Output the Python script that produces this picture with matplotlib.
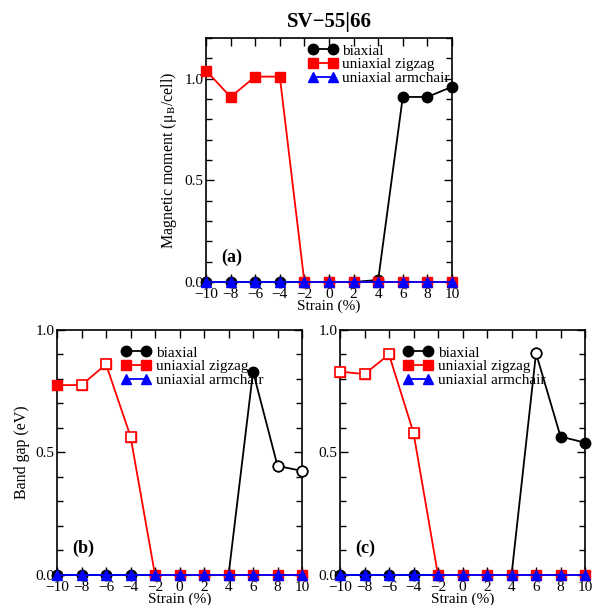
import matplotlib
matplotlib.use("Agg")
import matplotlib.pyplot as plt
from matplotlib.ticker import MultipleLocator

plt.rcParams["font.family"] = ["Liberation Serif", "DejaVu Serif"]
plt.rcParams["mathtext.fontset"] = "stix"
plt.rcParams["axes.unicode_minus"] = True

# --------------------------------------------------
# Data
# --------------------------------------------------
strain = [-10, -8, -6, -4, -2, 0, 2, 4, 6, 8, 10]

# (a) magnetic moment
mag_biaxial = [0, 0, 0, 0, 0, 0, 0, 0.01, 0.91, 0.91, 0.96]
mag_zigzag = [1.04, 0.91, 1.01, 1.01, 0, 0, 0, 0, 0, 0, 0]
mag_armchair = [0, 0, 0, 0, 0, 0, 0, 0, 0, 0, 0]

# (b) band gap
gap_b_biaxial = [0, 0, 0, 0, 0, 0, 0, 0, 0.83, 0.445, 0.425]
gap_b_zigzag = [0.775, 0.775, 0.86, 0.565, 0, 0, 0, 0, 0, 0, 0]
gap_b_armchair = [0, 0, 0, 0, 0, 0, 0, 0, 0, 0, 0]
open_b_biaxial = [0, 0, 0, 0, 0, 0, 0, 0, 0, 1, 1]
open_b_zigzag = [0, 1, 1, 1, 0, 0, 0, 0, 0, 0, 0]

# (c) band gap
gap_c_biaxial = [0, 0, 0, 0, 0, 0, 0, 0, 0.905, 0.565, 0.54]
gap_c_zigzag = [0.83, 0.82, 0.90, 0.58, 0, 0, 0, 0, 0, 0, 0]
gap_c_armchair = [0, 0, 0, 0, 0, 0, 0, 0, 0, 0, 0]
open_c_biaxial = [0, 0, 0, 0, 0, 0, 0, 0, 1, 0, 0]
open_c_zigzag = [1, 1, 1, 1, 0, 0, 0, 0, 0, 0, 0]

no_open = [0] * len(strain)

labels = ["biaxial", "uniaxial zigzag", "uniaxial armchair"]
colors = ["black", "red", "blue"]
markers = ["o", "s", "^"]

FS = 11


def draw_series(ax, ys, opens):
    for y, op, lab, c, m in zip(ys, opens, labels, colors, markers):
        ax.plot(strain, y, color=c, lw=1.3, marker=m, ms=7.5, mfc=c, mec=c,
                label=lab, clip_on=False, zorder=3)
        xo = [x for x, o in zip(strain, op) if o]
        yo = [v for v, o in zip(y, op) if o]
        if xo:
            ax.plot(xo, yo, ls="none", marker=m, ms=7.5, mfc="white", mec=c,
                    mew=1.2, clip_on=False, zorder=4)


def style_axes(ax, ymax, leg_xy):
    ax.set_xlim(-10, 10)
    ax.set_ylim(0, ymax)
    ax.xaxis.set_major_locator(MultipleLocator(2))
    ax.yaxis.set_major_locator(MultipleLocator(0.5))
    ax.yaxis.set_minor_locator(MultipleLocator(0.1))
    ax.tick_params(which="both", direction="in", top=True, right=True,
                   labelsize=FS, pad=2)
    ax.tick_params(axis="x", pad=4)
    ax.tick_params(which="major", length=6, width=1)
    ax.tick_params(which="minor", length=4, width=1)
    ax.yaxis.set_major_formatter(plt.FormatStrFormatter("%.1f"))
    for sp in ax.spines.values():
        sp.set_linewidth(1.2)
    ax.set_xlabel("Strain (%)", fontsize=FS, labelpad=-1)
    ax.legend(loc="upper left", bbox_to_anchor=leg_xy, frameon=False,
              fontsize=FS, handlelength=1.9, handletextpad=0.35,
              labelspacing=0.0, borderpad=0, borderaxespad=0, numpoints=2)


fig = plt.figure(figsize=(5.94, 6.05), dpi=100)

ax_a = fig.add_axes([0.3468, 0.5339, 0.4141, 0.4033])
ax_b = fig.add_axes([0.096, 0.0496, 0.4125, 0.405])
ax_c = fig.add_axes([0.5724, 0.0496, 0.4125, 0.405])

# --------------------------------------------------
# (a)
# --------------------------------------------------
draw_series(ax_a, [mag_biaxial, mag_zigzag, mag_armchair], [no_open] * 3)
style_axes(ax_a, 1.2, (0.415, 0.975))
ax_a.set_ylabel("Magnetic moment (μ$_{\\rm B}$/cell)", fontsize=FS + 0.5,
                labelpad=4)
ax_a.set_title("SV\u221255|66", fontsize=15, fontweight="bold", pad=8)
ax_a.text(-7.9, 0.12, "(a)", fontsize=13, fontweight="bold",
          ha="center", va="center")

# --------------------------------------------------
# (b)
# --------------------------------------------------
draw_series(ax_b, [gap_b_biaxial, gap_b_zigzag, gap_b_armchair],
            [open_b_biaxial, open_b_zigzag, no_open])
style_axes(ax_b, 1.0, (0.263, 0.935))
ax_b.set_ylabel("Band gap (eV)", fontsize=FS + 0.5, labelpad=4)
ax_b.text(-7.9, 0.11, "(b)", fontsize=13, fontweight="bold",
          ha="center", va="center")

# --------------------------------------------------
# (c)
# --------------------------------------------------
draw_series(ax_c, [gap_c_biaxial, gap_c_zigzag, gap_c_armchair],
            [open_c_biaxial, open_c_zigzag, no_open])
style_axes(ax_c, 1.0, (0.26, 0.935))
ax_c.text(-7.9, 0.11, "(c)", fontsize=13, fontweight="bold",
          ha="center", va="center")

fig.savefig("out.png", dpi=100)
